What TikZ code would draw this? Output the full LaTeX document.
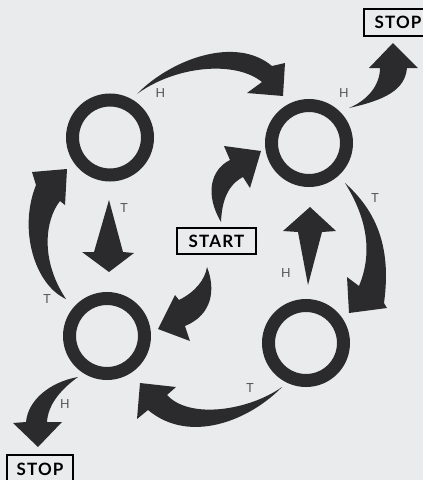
\documentclass[tikz,border=0pt]{standalone}
\usepackage{fontspec}
\setmainfont{Lato}
\begin{document}
\begin{tikzpicture}[x=1pt,y=-1pt,
  ring/.style={circle,draw=ink,line width=13pt,minimum size=75pt,inner sep=0pt},
  fat/.style={fill=ink},
  lab/.style={font=\fontsize{12.5}{12.5}\selectfont,text=labgrey,inner sep=0pt},
  boxed/.style={draw=black,line width=1.8pt,fill=none,inner sep=0pt,
     font=\fontsize{17}{17}\selectfont\bfseries\addfontfeatures{LetterSpace=7}},
]
\definecolor{ink}{HTML}{2B2B2D}
\definecolor{bg}{HTML}{E9EBED}
\definecolor{labgrey}{HTML}{555555}
\fill[bg] (0,0) rectangle (423,480);
\useasboundingbox (0,0) rectangle (423,480);

% rings
\node[ring] (tl) at (110,137.5) {};
\node[ring] (tr) at (309,143) {};
\node[ring] (bl) at (107,336) {};
\node[ring] (br) at (306,343) {};

% boxes
\node[boxed,minimum width=68pt,minimum height=27pt] (stop1) at (398,22.5) {STOP};
\node[boxed,minimum width=79pt,minimum height=26pt] (start) at (216.5,241) {START};
\node[boxed,minimum width=66pt,minimum height=28pt] (stop2) at (40,469) {STOP};

% labels
\node[lab] (h1) at (160.5,93) {H};
\node[lab] (h2) at (344,93) {H};
\node[lab] (t1) at (124,208) {T};
\node[lab] (t2) at (375,198) {T};
\node[lab] (h3) at (286,273) {H};
\node[lab] (t3) at (47,299) {T};
\node[lab] (t4) at (250,388) {T};
\node[lab] (h4) at (65,404) {H};

% arrows
% top: tl -> tr
\fill[fat] (137,94) .. controls (170,60) and (235,35) .. (272,66) -- (285,63) -- (283,96) -- (247,93) -- (262,82) .. controls (235,60) and (175,66) .. cycle;
% tr -> stop1
\fill[fat] (349,108) .. controls (385,100) and (405,90) .. (407,68) -- (418,68) -- (393,43) -- (369,68) -- (380,68) .. controls (380,85) and (368,100) .. cycle;
% bl -> tl (left)
\fill[fat] (66,299) .. controls (35,285) and (18,230) .. (36,185) -- (32,172) -- (67,169) -- (65,205) -- (60,201) .. controls (45,220) and (40,260) .. cycle;
% tl -> bl (straight down)
\fill[fat] (109,200) -- (123,252) -- (134,253) -- (109,272) -- (82,252) -- (94,252) -- cycle;
% start -> tr
\fill[fat] (221,222) .. controls (205,195) and (210,170) .. (230,160) -- (224,146) -- (261,151) -- (250,188) -- (243,177) .. controls (228,185) and (222,200) .. cycle;
% start -> bl
\fill[fat] (207,267) .. controls (216,290) and (212,315) .. (185,326) -- (190,341) -- (158,329) -- (175,295) -- (179,300) .. controls (195,292) and (205,280) .. cycle;
% br -> tr (straight up)
\fill[fat] (308,285) -- (298,232) -- (283,231) -- (310,207) -- (336,231) -- (322,232) -- cycle;
% tr -> br (right)
\fill[fat] (345,183) .. controls (375,210) and (392,245) .. (384,303) -- (387,308) -- (349,313) -- (347,277) -- (359,286) .. controls (374,250) and (365,215) .. cycle;
% br -> bl (bottom)
\fill[fat] (282,387) .. controls (250,420) and (190,445) .. (148,410) -- (137,419) -- (140,383) -- (176,387) -- (167,395) .. controls (190,420) and (250,410) .. cycle;
% bl -> stop2
\fill[fat] (78,377) .. controls (50,382) and (28,400) .. (26,422) -- (13,423) -- (38,447) -- (62,422) -- (47,422) .. controls (48,405) and (60,390) .. cycle;
\end{tikzpicture}
\end{document}
